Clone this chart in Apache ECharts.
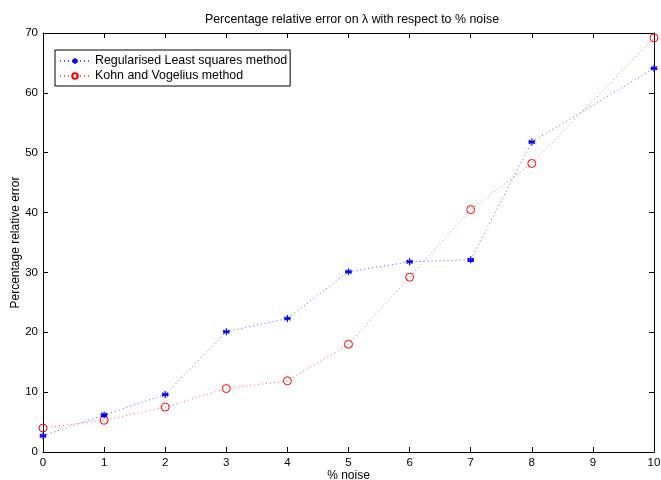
<!DOCTYPE html>
<html>
<head>
<meta charset="utf-8">
<script src="https://cdn.jsdelivr.net/npm/echarts@6/dist/echarts.min.js"></script>
<style>html,body{margin:0;padding:0;background:#fff}#c{width:661px;height:480px}</style>
</head>
<body>
<div id="c"></div>
<script>
const noise = [0, 1, 2, 3, 4, 5, 6, 7, 8, 10];
const rlsError = [2.7, 6.2, 9.6, 20.1, 22.3, 30.1, 31.8, 32.1, 51.8, 64.1];
const kvError = [4.0, 5.3, 7.5, 10.6, 11.9, 18.0, 29.2, 40.5, 48.2, 69.2];
const xTicks = [0, 1, 2, 3, 4, 5, 6, 7, 8, 9, 10];
const yTicks = [0, 10, 20, 30, 40, 50, 60, 70];

const font = 'Liberation Sans, Arial, Helvetica, sans-serif';
const asterisk = 'path://M0,-10L0,10M-8.66,-5L8.66,5M-8.66,5L8.66,-5M-10,0L10,0';

const chart = echarts.init(document.getElementById('c'), null, {renderer: 'canvas'});
const axCommon = {
  axisLine: {show: true, onZero: false, lineStyle: {color: '#000', width: 1}},
  axisTick: {show: true, inside: true, length: 5, lineStyle: {color: '#000'}},
  splitLine: {show: false}
};
chart.setOption({
  animation: false,
  backgroundColor: '#fff',
  title: {
    text: 'Percentage relative error on λ with respect to % noise',
    left: 347, textAlign: 'center', top: 9,
    textStyle: {fontFamily: font, fontSize: 12.4, fontWeight: 'normal', color: '#000'}
  },
  legend: {
    left: 55, top: 50, orient: 'vertical',
    backgroundColor: '#fff', borderColor: '#000', borderWidth: 1,
    padding: [5, 3, 4, 4], itemGap: 3, itemWidth: 30, itemHeight: 7,
    textStyle: {fontFamily: font, fontSize: 12.4, color: '#000'},
    data: ['Regularised Least squares method', 'Kohn and Vogelius method']
  },
  grid: {left: 43, right: 7, top: 33, bottom: 28, containLabel: false, outerBoundsMode: 'none'},
  xAxis: [
    Object.assign({
      type: 'value', min: 0, max: 10, interval: 1, position: 'bottom',
      name: '% noise', nameLocation: 'middle', nameGap: 18, nameMoveOverlap: false,
      nameTextStyle: {fontFamily: font, fontSize: 12, color: '#000'},
      axisLabel: {fontFamily: font, fontSize: 11.5, color: '#000', margin: 5,
        formatter: v => xTicks.includes(v) ? String(v) : ''}
    }, axCommon),
    Object.assign({
      type: 'value', min: 0, max: 10, interval: 1, position: 'top',
      axisLabel: {show: false}
    }, axCommon)
  ],
  yAxis: [
    Object.assign({
      type: 'value', min: 0, max: 70, interval: 10, position: 'left',
      name: 'Percentage relative error', nameLocation: 'middle', nameGap: 21, nameRotate: 90,
      nameMoveOverlap: false,
      nameTextStyle: {fontFamily: font, fontSize: 12, color: '#000'},
      axisLabel: {fontFamily: font, fontSize: 11.5, color: '#000', margin: 5,
        formatter: v => yTicks.includes(v) ? String(v) : ''}
    }, axCommon),
    Object.assign({
      type: 'value', min: 0, max: 70, interval: 10, position: 'right',
      axisLabel: {show: false}
    }, axCommon)
  ],
  series: [
    {
      name: 'Regularised Least squares method', type: 'line',
      data: noise.map((x, i) => [x, rlsError[i]]),
      symbol: asterisk, symbolSize: 7,
      itemStyle: {color: '#0000ff', borderColor: '#0000ff', borderWidth: 1.2},
      lineStyle: {color: '#3333ff', width: 1, type: [1, 3], opacity: 0.8},
      z: 3
    },
    {
      name: 'Kohn and Vogelius method', type: 'line',
      data: noise.map((x, i) => [x, kvError[i]]),
      symbol: 'circle', symbolSize: 8,
      itemStyle: {color: 'rgba(255,255,255,0)', borderColor: '#ff0000', borderWidth: 1},
      lineStyle: {color: '#ff3333', width: 1, type: [1, 3], opacity: 0.8},
      z: 2
    }
  ]
});
</script>
</body>
</html>
